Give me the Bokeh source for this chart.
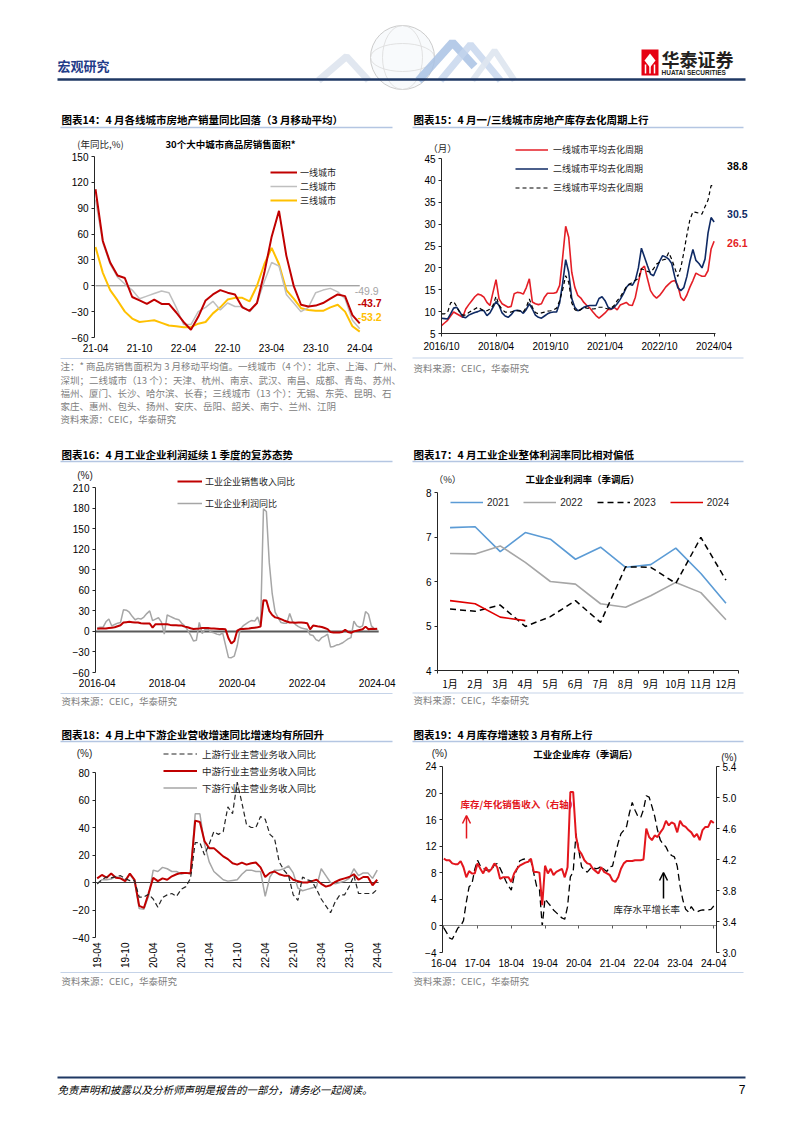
import math
from bokeh.plotting import figure
from bokeh.layouts import column, row
from bokeh.models import (Range1d, LinearAxis, FixedTicker, Legend, LegendItem,
                          NumeralTickFormatter, Label, Arrow, OpenHead)
from bokeh.core.properties import value
from bokeh.embed import file_html
from bokeh.resources import INLINE

CJK = "Noto Sans CJK SC"
LAT = "Liberation Sans"
AX = "#262626"

# ======================= DATA =======================
# 图表14: monthly 2021-04 .. 2024-04 (YoY %, 3M MA)
ticks14 = ["21-04", "21-10", "22-04", "22-10", "23-04", "23-10", "24-04"]
tier1_14 = [112, 52, 27, 12, 9, -13, -17, -21, -16, -21, -21, -31, -42, -51, -36,
            -17, -10, -5, -8, -10, -25, -29, -20, 15, 57, 87, 35, 0, -22, -24,
            -23, -20, -15, -10, -12, -34, -43.7]
tier2_14 = [100, 50, 25, 10, 2, -5, -15, -12, -9, -6, -8, -25, -45, -45, -30,
            -25, -18, -28, -20, -24, -24, -30, -20, 5, 27, 23, -10, -20, -30, -25,
            -8, -5, -3, -7, -15, -40, -49.9]
tier3_14 = [45, 15, -5, -17, -30, -38, -42, -41, -40, -43, -46, -47, -48, -48, -44,
            -42, -32, -25, -16, -14, -14, -18, 0, 25, 44, 25, -5, -15, -26, -28,
            -29, -29, -25, -22, -30, -47, -53.2]

# 图表15: monthly 2016-10 .. 2024-04 (months)
ticks15 = ["2016/10", "2018/04", "2019/10", "2021/04", "2022/10", "2024/04"]
tier1_15 = [6.8, 7.4, 8.0, 9.0, 9.9, 9.5, 9.1, 8.7, 10.6, 11.6,
            12.5, 13.4, 14.0, 13.8, 13.3, 12.1, 11.4, 14.4, 17.3, 12.9,
            11.8, 11.4, 11.0, 11.2, 14.1, 14.4, 14.3, 14.0, 15.5, 17.5,
            12.2, 11.8, 11.6, 11.8, 13.3, 14.2, 14.2, 14.2, 14.4, 16.0,
            22.4, 29.5, 27.0, 19.0, 15.6, 13.7, 13.1, 12.1, 11.4, 10.8,
            9.9, 9.1, 8.5, 9.1, 9.7, 10.5, 10.5, 11.0, 10.4, 11.5,
            11.8, 12.1, 11.5, 11.4, 13.3, 16.7, 19.8, 20.4, 17.5, 14.8,
            13.7, 13.1, 13.7, 14.6, 15.6, 16.3, 16.9, 17.1, 16.0, 13.3,
            12.5, 13.8, 15.6, 17.1, 18.8, 18.4, 18.1, 18.1, 19.4, 24.3, 26.1]
tier2_15 = [8.5, 8.4, 8.3, 9.5, 10.8, 11.0, 10.0, 8.8, 8.6, 9.2,
            9.5, 9.8, 10.0, 10.3, 10.2, 9.1, 9.7, 11.0, 12.3, 11.4,
            9.7, 9.0, 8.7, 9.3, 10.2, 10.3, 10.2, 9.6, 10.5, 11.8,
            10.6, 9.2, 8.7, 8.5, 9.0, 9.5, 9.8, 9.9, 9.9, 12.0,
            16.5, 21.9, 19.0, 13.0, 11.0, 10.2, 10.5, 11.0, 11.3, 11.4,
            11.4, 11.4, 13.0, 13.4, 12.5, 11.0, 10.6, 11.0, 11.8, 12.8,
            14.0, 15.5, 16.3, 16.0, 17.2, 20.0, 24.5, 22.5, 20.5, 18.6,
            18.2, 19.8, 21.5, 22.8, 22.5, 22.0, 21.0, 18.0, 15.5, 14.8,
            15.5, 18.0, 21.5, 24.2, 21.7, 21.0, 20.0, 22.0, 28.0, 31.5, 30.5]
tier3_15 = [9.5, 9.5, 9.8, 12.0, 12.3, 11.2, 9.8, 9.2, 9.2, 9.8,
            10.2, 10.6, 11.0, 10.6, 10.2, 10.2, 10.6, 11.4, 13.5, 11.5,
            10.5, 9.9, 9.9, 9.9, 10.2, 10.2, 10.1, 9.9, 11.0, 12.9,
            11.0, 9.8, 9.5, 9.7, 9.9, 10.1, 10.2, 10.4, 10.8, 12.5,
            15.0, 18.2, 16.7, 12.0, 10.5, 10.0, 10.5, 11.0, 10.8, 10.7,
            10.6, 10.7, 11.0, 11.0, 10.8, 10.6, 10.8, 11.4, 12.5, 13.3,
            14.5, 15.6, 16.2, 16.7, 17.2, 17.5, 19.8, 19.5, 19.2, 19.0,
            19.8, 20.9, 21.3, 21.8, 22.0, 23.5, 22.0, 20.0, 18.0, 20.0,
            23.5, 27.5, 31.0, 32.8, 32.7, 32.5, 32.3, 34.0, 35.5, 38.8, 38.8]

# 图表16: monthly 2016-04 .. 2024-04 (YoY %)
ticks16 = ["2016-04", "2018-04", "2020-04", "2022-04", "2024-04"]
revenue16 = [4.0, 4.2, 4.4, 4.4, 5.0, 5.5, 6.0, 7.5, 9.0, 13.0,
             13.5, 14.0, 13.5, 13.0, 13.0, 12.0, 11.7, 11.7, 11.5, 5.5,
             10.5, 10.5, 10.5, 10.5, 10.5, 9.5, 9.0, 9.0, 8.5, 8.5,
             7.0, 6.0, 4.5, 3.5, 4.0, 4.4, 5.0, 5.0, 5.0, 4.4,
             4.4, 4.0, 3.4, 3.4, 3.0, -10.0, -17.7, -14.0, 1.0, 3.4,
             3.5, 4.0, 4.4, 5.0, 5.5, 6.0, 7.0, 45.5, 45.0, 30.0,
             24.0, 20.5, 19.5, 18.0, 16.0, 14.5, 13.0, 13.0, 12.5, 13.0,
             13.0, 12.5, 12.0, 3.0, 8.5, 8.0, 7.0, 6.5, 5.0, 3.4,
             -1.0, -1.5, -1.5, -1.5, -1.0, 2.5, -1.0, -2.0, 0.0, 1.0,
             2.0, 3.0, 7.0, 3.0, 4.0, 3.5, 4.0]
profit16 = [5, 6, 6, 14, 18, 8, 10, 12, 13, 31.5,
            31, 28, 22, 17, 19, 18, 21, 26, 30, 15.6,
            18, 20, 14, -4, 24, 22, 20, 18, 17, 12,
            8, 2, -5, -14, -13, 13, -3, 3, 3, -1,
            -2, -4, -5, -2, -20, -38, -38.3, -36, -21, 3,
            8, 11, 14, 16, 15, 21, 8, 178.9, 175, 100,
            55, 28, 20, 13, 12, 12, 26, 14, 10, 7,
            5, 4, 3, -5, -6, -12, -14, -9, -7, -4,
            -22.9, -22, -20, -19, -17, -14, -11, -9, 15, 8,
            6, 8, 29, 25, 8, 4, 2]

# 图表17: profit margin by month (%)
months17 = ["1月", "2月", "3月", "4月", "5月", "6月", "7月", "8月", "9月", "10月", "11月", "12月"]
margin2021 = [7.21, 7.23, 6.67, 7.10, 6.95, 6.50, 6.77, 6.32, 6.38, 6.75, 6.18, 5.51]
margin2022 = [6.63, 6.62, 6.80, 6.43, 6.00, 5.94, 5.50, 5.42, 5.68, 5.98, 5.75, 5.14]
margin2023 = [5.38, 5.33, 5.47, 4.99, 5.21, 5.57, 5.08, 6.33, 6.32, 5.96, 6.99, 6.03]
margin2024 = [5.57, 5.50, 5.20, 5.12]

# 图表18: monthly 2019-04 .. 2024-04 (YoY %)
ticks18 = ["19-04", "19-10", "20-04", "20-10", "21-04", "21-10", "22-04", "22-10", "23-04", "23-10", "24-04"]
upstream18 = [-1, 2, 4, 3.4, 4.3, 5, 2.7, 1.4, 1.4, -10.6,
              -10.6, -8.5, -12, -18, -11, -9, -8, -10, -5, -3,
              3, 29, 29, 20, 28, 37, 35, 37, 55, 50,
              73, 58, 42, 40, 40, 48, 46, 35, 32, 15,
              9, 5, -9, -13, 4, 2, 1, -5, -12, -17,
              -22, -14, -9, -9, -3, 5, -8, -8, -8, -8, -5]
midstream18 = [3, 5.5, 3.5, 6.5, 3.5, 3, 1, 6.5, 2, -17,
               -18.5, -8, 3.5, 1, 3, 2, 4.5, 6, 7, 7,
               6.5, 45, 44, 30, 25, 25, 22, 19, 17, 14,
               13, 14.5, 13, 14, 14.5, 11, 4, 7, 8, 6,
               5, 5, 2, 1, 0, 0, 1, 2, -1, -3,
               -2, 0.5, 2, 3, 4, 6, 2, 4, 4, -2, 2]
downstream18 = [-1, 2, 2, 2.5, 4.5, 3, 2, 6, 1, -19,
                -19.5, -10, 9, 8, 11, 10, 8, 8, 6, 7,
                7, 50, 50, 28, 15, 8, 5, 2, 1, 1.5,
                2, 6, 9, 9, 8, 8, -10, 4, 9, 9,
                10, 12, 7, -4, -6, -5, -4, -3, 10, 5,
                0, -1, 0, 1, 3, 10, 5, 7, 7, 3, 9]

# 图表19: monthly 2016-04 .. 2024-04
ticks19 = ["16-04", "17-04", "18-04", "19-04", "20-04", "21-04", "22-04", "23-04", "24-04"]
inventory19 = [-0.3, -1.0, -1.8, -2.0, -1.2, -0.3, 0.0, 0.8, 3.6, 5.9,
               6.3, 8.5, 9.9, 9.0, 8.7, 8.4, 8.4, 8.4, 9.2, 9.4,
               8.7, 7.8, 6.8, 6.0, 5.4, 7.5, 8.5, 9.8, 10.0, 10.1,
               10.1, 9.8, 7.9, 6.0, 5.6, 0.0, 4.1, 3.5, 3.0, 2.4,
               2.0, 1.6, 1.2, 1.0, 2.9, 7.4, 8.1, 13.9, 11.4, 8.9,
               8.4, 8.1, 8.6, 8.9, 8.6, 8.7, 9.0, 8.5, 8.2, 8.9,
               9.0, 10.9, 12.5, 13.9, 14.4, 15.0, 17.0, 18.6, 17.4, 16.5,
               16.3, 17.5, 19.6, 19.4, 18.0, 16.5, 14.4, 12.9, 12.3, 11.9,
               11.0, 10.6, 10.4, 9.0, 6.0, 3.9, 2.5, 2.1, 2.9, 2.3,
               2.1, 2.3, 2.4, 2.4, 2.4, 2.5, 3.0]
ratio19 = [4.21, 4.19, 4.19, 4.15, 4.14, 4.14, 4.18, 4.10, 3.97, 4.05,
           4.02, 4.02, 4.15, 4.08, 4.02, 4.10, 4.04, 4.08, 4.15, 4.10,
           3.95, 3.97, 3.97, 3.97, 3.91, 4.02, 4.08, 4.12, 4.14, 4.16,
           4.17, 4.21, 4.04, 4.04, 4.03, 3.61, 4.12, 4.02, 4.08, 4.00,
           4.04, 4.06, 4.08, 3.97, 4.10, 5.07, 5.07, 4.50, 4.32, 4.27,
           4.19, 4.15, 4.14, 4.08, 4.05, 4.02, 4.10, 4.04, 4.02, 4.00,
           3.93, 3.91, 3.97, 4.08, 4.15, 4.18, 4.18, 4.18, 4.19, 4.19,
           4.19, 4.20, 4.60, 4.49, 4.45, 4.51, 4.49, 4.55, 4.60, 4.70,
           4.64, 4.68, 4.66, 4.55, 4.70, 4.64, 4.62, 4.58, 4.55, 4.49,
           4.53, 4.45, 4.58, 4.62, 4.62, 4.70, 4.67]

# ======================= TEXTS =======================
T14 = "图表14：4 月各线城市房地产销量同比回落（3 月移动平均）"
T15 = "图表15：4 月一/三线城市房地产库存去化周期上行"
T16 = "图表16：4 月工业企业利润延续 1 季度的复苏态势"
T17 = "图表17：4 月工业企业整体利润率同比相对偏低"
T18 = "图表18：4 月上中下游企业营收增速同比增速均有所回升"
T19 = "图表19：4 月库存增速较 3 月有所上行"
NOTES14 = ["注：* 商品房销售面积为 3 月移动平均值。一线城市（4 个）：北京、上海、广州、",
           "深圳；二线城市（13 个）：天津、杭州、南京、武汉、南昌、成都、青岛、苏州、",
           "福州、厦门、长沙、哈尔滨、长春；三线城市（13 个）：无锡、东莞、昆明、石",
           "家庄、惠州、包头、扬州、安庆、岳阳、韶关、南宁、兰州、江阴"]
SRC = "资料来源：CEIC，华泰研究"


# ======================= HELPERS =======================
def strip(h):
    p = figure(width=802, height=h, x_range=Range1d(0, 802), y_range=Range1d(h, 0),
               output_backend="svg", toolbar_location=None, title=None,
               x_axis_location=None, y_axis_location=None,
               min_border_left=0, min_border_right=0, min_border_top=0, min_border_bottom=0)
    p.grid.visible = False
    p.outline_line_color = None
    return p


def st(p, x, y, s, size, color="#000000", style="normal", font=CJK, align="left"):
    p.text(x=[x], y=[y], text=[s], text_font=value(font), text_font_size=f"{size}px",
           text_color=color, text_font_style=style, text_align=align, text_baseline="middle")


def hline(p, x0, x1, y, color, w):
    p.segment(x0=[x0], y0=[y], x1=[x1], y1=[y], line_color=color, line_width=w)


class Map:
    """page-pixel -> data conversion for a chart frame"""
    def __init__(self, fl, fb, x0, xpx, y0, ypx):
        self.fl, self.fb, self.x0, self.xpx, self.y0, self.ypx = fl, fb, x0, xpx, y0, ypx

    def x(self, px):
        return self.x0 + (px - self.fl) / self.xpx

    def y(self, py):
        return self.y0 + (self.fb - py) / self.ypx


def base_chart(fig_left, fig_top, height, axis_px, x_at_axis, xpx, axis_py, y_at_axis, ypx):
    """Frame spans the whole figure; both axes are pinned (page pixels) inside it."""
    x0 = x_at_axis - (axis_px - fig_left) / xpx
    y0 = y_at_axis - (fig_top + height - axis_py) / ypx
    p = figure(width=401, height=height, x_range=Range1d(x0, x0 + 401 / xpx),
               y_range=Range1d(y0, y0 + height / ypx),
               output_backend="svg", toolbar_location=None, title=None,
               min_border_left=0, min_border_right=0, min_border_top=0, min_border_bottom=0)
    p.grid.visible = False
    p.outline_line_color = None
    p.yaxis[0].fixed_location = x_at_axis
    p.xaxis[0].fixed_location = y_at_axis
    return p, Map(fig_left, fig_top + height, x0, xpx, y0, ypx)


def style_axis(ax, ticks, overrides=None, bounds=None, tick_out=3, standoff=3,
               font=LAT, size="10px", line=True):
    ax.ticker = FixedTicker(ticks=ticks)
    if overrides:
        ax.major_label_overrides = overrides
    if bounds:
        ax.bounds = bounds
    ax.axis_line_color = AX if line else None
    ax.axis_line_width = 1
    ax.major_tick_line_color = AX
    ax.minor_tick_line_color = None
    ax.major_tick_in = 0
    ax.major_tick_out = tick_out
    ax.major_label_standoff = standoff
    ax.major_label_text_font = font
    ax.major_label_text_font_size = size
    ax.major_label_text_color = "#000000"


def lab(p, x, y, s, size, color="#262626", style="normal", font=CJK, align="center"):
    p.add_layout(Label(x=x, y=y, text=s, text_font=font, text_font_size=f"{size}px",
                       text_color=color, text_font_style=style, text_align=align,
                       text_baseline="middle"))


def legend(p, items, vx, vy, gw, ih, standoff, font=CJK, size=9, orientation="vertical", spacing=0):
    leg = Legend(items=[LegendItem(label=l, renderers=[r]) for l, r in items],
                 location=(vx, vy), orientation=orientation,
                 glyph_width=gw, glyph_height=ih, label_height=ih,
                 label_standoff=standoff, spacing=spacing, padding=0, margin=0,
                 border_line_color=None, background_fill_alpha=0,
                 label_text_font=font, label_text_font_size=f"{size}px",
                 label_text_color="#262626")
    p.add_layout(leg)


# ======================= STRIP A (header + row1 titles) =======================
sA = strip(130)
st(sA, 57, 65, "宏观研究", 13, "#1F3C88", "bold")
# header decoration (globe & ribbons)
sA.line([318, 346, 368], [80, 56, 80], line_color="#D9E1EC", line_width=7, line_alpha=0.8)
sA.circle(x=[402], y=[57], radius=32, fill_color="#F8FAFC", line_color="#CCCCCC", line_width=1)
sA.ellipse(x=[402], y=[57], width=40, height=64, fill_color=None, line_color="#DADADA", line_width=0.8)
sA.ellipse(x=[402], y=[57], width=64, height=28, fill_color=None, line_color="#DADADA", line_width=0.8)
sA.line([418, 452, 474], [80, 42, 66], line_color="#A9C2E4", line_width=8, line_alpha=0.85)
sA.line([440, 470, 500], [80, 44, 80], line_color="#C4D5EC", line_width=7, line_alpha=0.8)
sA.line([472, 494, 514], [80, 50, 80], line_color="#DEE5EF", line_width=6, line_alpha=0.9)
hline(sA, 57, 745, 79, "#1F3864", 2.5)
# logo
sA.quad(left=[641], right=[658], top=[49], bottom=[75], fill_color="#E60012", line_color=None)
sA.patch([649.5, 655, 649.5, 644], [53, 60, 67, 60], fill_color="white", line_color=None)
sA.segment(x0=[645, 649.5, 654], y0=[64, 64, 64], x1=[645, 649.5, 654], y1=[73, 73, 73],
           line_color="white", line_width=1.5)
st(sA, 661, 58, "华泰证券", 18, "#231F20", "bold")
st(sA, 661, 71.5, "HUATAI SECURITIES", 6.5, "#231F20", "bold", LAT)
# row1 titles
st(sA, 61, 119, T14, 10.5, "#000000", "bold")
st(sA, 413, 119, T15, 10.5, "#000000", "bold")
hline(sA, 60, 392, 127, "#B4C6E2", 1.5)
hline(sA, 412, 743, 127, "#B4C6E2", 1.5)

# ======================= CHART 14 =======================
XA14, PX14, YPX14 = -0.136, 7.34, 0.8619
f14, m14 = base_chart(0, 130, 226, 94, XA14, PX14, 337, -60, YPX14)
x14 = list(range(len(tier1_14)))
f14.segment(x0=[x14[0]], y0=[0], x1=[x14[-1]], y1=[0], line_color="#7F7F7F", line_width=1)
r14c = f14.line(x14, tier3_14, line_color="#FFC000", line_width=2)
r14b = f14.line(x14, tier2_14, line_color="#BFBFBF", line_width=1.5)
r14a = f14.line(x14, tier1_14, line_color="#C00000", line_width=2)
style_axis(f14.yaxis[0], list(range(-60, 151, 30)), bounds=(-60, 150))
style_axis(f14.xaxis[0], [i * 6 for i in range(len(ticks14))],
           {i * 6: t for i, t in enumerate(ticks14)}, tick_out=0, standoff=6, line=False)
legend(f14, [("一线城市", r14a), ("二线城市", r14b), ("三线城市", r14c)], 270, 149, 27, 14, 3)
lab(f14, m14.x(100), m14.y(143), "(年同比,%)", 9.5)
lab(f14, m14.x(230), m14.y(143), "30个大中城市商品房销售面积*", 9.5, "#000000", "bold")
for ser, col, dy, dx, sty in [(tier2_14, "#A6A6A6", 38, -5, "normal"),
                              (tier1_14, "#C00000", 20, -2, "bold"),
                              (tier3_14, "#FFC000", 15, -2, "bold")]:
    lab(f14, x14[-1] + dx / PX14, ser[-1] + dy / YPX14, f"{ser[-1]:.1f}", 10.5, col, sty, LAT, "left")

# ======================= CHART 15 =======================
PX15, YPX15 = 3.029, 4.375
f15, m15 = base_chart(401, 130, 226, 441, 0, PX15, 333, 5, YPX15)
x15 = list(range(len(tier1_15)))
r15a = f15.line(x15, tier1_15, line_color="#E41E26", line_width=1.6)
r15b = f15.line(x15, tier2_15, line_color="#0F2A64", line_width=1.6)
r15c = f15.line(x15, tier3_15, line_color="#000000", line_width=1.2, line_dash="4 3")
style_axis(f15.yaxis[0], list(range(5, 46, 5)), bounds=(5, 45))
style_axis(f15.xaxis[0], [i * 18 for i in range(len(ticks15))],
           {i * 18: t for i, t in enumerate(ticks15)}, bounds=(0, x15[-1] + 0.5), tick_out=3, standoff=4)
legend(f15, [("一线城市平均去化周期", r15a), ("二线城市平均去化周期", r15b),
             ("三线城市平均去化周期", r15c)], 515 - 401, 159, 33, 19, 5)
lab(f15, m15.x(442), m15.y(147), "（月）", 9.5)
for ser, col, dy in [(tier3_15, "#000000", 20), (tier2_15, "#0F2A64", 8), (tier1_15, "#E41E26", -2)]:
    lab(f15, x15[-1] + 13 / PX15, ser[-1] + dy / YPX15, f"{ser[-1]:.1f}", 10.5, col, "bold", LAT, "left")

# ======================= STRIP B =======================
sB = strip(109)
hline(sB, 60, 392, 2, "#C5D3E8", 1)
hline(sB, 412, 743, 1.5, "#C5D3E8", 1)
for i, t in enumerate(NOTES14):
    st(sB, 60, [9, 23, 36, 49][i], t, 9.5, "#808080")
st(sB, 60, 62, SRC, 9.5, "#808080")
st(sB, 413, 11, SRC, 9.5, "#808080")
st(sB, 61, 98, T16, 10.5, "#000000", "bold")
st(sB, 413, 98, T17, 10.5, "#000000", "bold")
hline(sB, 60, 392, 105, "#B4C6E2", 1.5)
hline(sB, 412, 743, 105, "#B4C6E2", 1.5)

# ======================= CHART 16 =======================
XA16, PX16, YPX16 = -0.58, 2.917, 0.685
f16, m16 = base_chart(0, 465, 226, 95, XA16, PX16, 672, -60, YPX16)
x16 = list(range(len(revenue16)))
f16.segment(x0=[XA16], y0=[0], x1=[x16[-1] + 0.5], y1=[0], line_color="#595959", line_width=2)
r16b = f16.line(x16, profit16, line_color="#A6A6A6", line_width=1.5)
r16a = f16.line(x16, revenue16, line_color="#C00000", line_width=2)
style_axis(f16.yaxis[0], list(range(-60, 211, 30)), bounds=(-60, 210))
style_axis(f16.xaxis[0], [i * 24 for i in range(len(ticks16))],
           {i * 24: t for i, t in enumerate(ticks16)}, tick_out=0, standoff=6, line=False)
legend(f16, [("工业企业销售收入同比", r16a), ("工业企业利润同比", r16b)], 177, 177, 25, 22, 3)
lab(f16, m16.x(84.5), m16.y(475), "(%)", 10, "#262626", "normal", LAT)

# ======================= CHART 17 =======================
PX17, YPX17 = 301 / 12, 44.5
f17, m17 = base_chart(401, 465, 226, 437, 0.5, PX17, 670, 4, YPX17)
xm = list(range(1, len(months17) + 1))
r17a = f17.line(xm, margin2021, line_color="#5B9BD5", line_width=1.6)
r17b = f17.line(xm, margin2022, line_color="#A6A6A6", line_width=1.6)
r17c = f17.line(xm, margin2023, line_color="#000000", line_width=1.5, line_dash="6 4")
r17d = f17.line(xm[:len(margin2024)], margin2024, line_color="#E00000", line_width=1.6)
style_axis(f17.yaxis[0], [4, 5, 6, 7, 8], bounds=(4, 8))
style_axis(f17.xaxis[0], xm, {m: t for m, t in zip(xm, months17)}, bounds=(0.5, 12.5),
           tick_out=0, standoff=2, font=CJK)
f17.xaxis[0].ticker = FixedTicker(ticks=xm, minor_ticks=[m - 0.5 for m in xm] + [xm[-1] + 0.5])
f17.xaxis[0].minor_tick_line_color = AX
f17.xaxis[0].minor_tick_out = 3
f17.xaxis[0].minor_tick_in = 0
legend(f17, [("2021", r17a), ("2022", r17b), ("2023", r17c), ("2024", r17d)], 450 - 401, 182, 33, 14, 4,
       font=LAT, size=10, orientation="horizontal", spacing=14)
lab(f17, m17.x(447), m17.y(478), "（%）", 9.5)
lab(f17, m17.x(582), m17.y(478), "工业企业利润率（季调后）", 9.5, "#000000", "bold")

# ======================= STRIP C =======================
sC = strip(54)
hline(sC, 60, 392, 2, "#C5D3E8", 1)
hline(sC, 412, 743, 1.5, "#C5D3E8", 1)
st(sC, 61, 9, SRC, 9.5, "#808080")
st(sC, 413, 8, SRC, 9.5, "#808080")
st(sC, 61, 43, T18, 10.5, "#000000", "bold")
st(sC, 413, 43, T19, 10.5, "#000000", "bold")
hline(sC, 60, 392, 50, "#B4C6E2", 1.5)
hline(sC, 412, 743, 50, "#B4C6E2", 1.5)

# ======================= CHART 18 =======================
XA18, PX18, YPX18 = -0.364, 4.667, 1.375
f18, m18 = base_chart(0, 745, 225, 95, XA18, PX18, 937, -40, YPX18)
x18 = list(range(len(upstream18)))
f18.segment(x0=[XA18], y0=[0], x1=[x18[-1] + 0.3], y1=[0], line_color="#404040", line_width=1.2)
r18c = f18.line(x18, downstream18, line_color="#A6A6A6", line_width=1.5)
r18b = f18.line(x18, midstream18, line_color="#C00000", line_width=2)
r18a = f18.line(x18, upstream18, line_color="#262626", line_width=1.2, line_dash="5 3")
style_axis(f18.yaxis[0], list(range(-40, 81, 20)), bounds=(-40, 80))
style_axis(f18.xaxis[0], [i * 6 for i in range(len(ticks18))],
           {i * 6: t for i, t in enumerate(ticks18)}, tick_out=0, standoff=5, line=False)
f18.xaxis[0].major_label_orientation = math.pi / 2
legend(f18, [("上游行业主营业务收入同比", r18a), ("中游行业主营业务收入同比", r18b),
             ("下游行业主营业务收入同比", r18c)], 163, 174, 34, 17, 5, size=9.5)
lab(f18, m18.x(84), m18.y(753), "(%)", 10, "#262626", "normal", LAT)

# ======================= CHART 19 =======================
XA19, PX19, YPX19, RPX19 = -0.46, 2.8125, 6.643, 77.5
f19, m19 = base_chart(401, 745, 225, 442, XA19, PX19, 952, -4, YPX19)
r0 = 3.0 - (745 + 225 - 952) / RPX19
f19.extra_y_ranges = {"ratio": Range1d(r0, r0 + 225 / RPX19)}
x19 = list(range(len(inventory19)))
year_ticks19 = [i * 12 for i in range(len(ticks19))]
zax = LinearAxis(fixed_location=0)
f19.add_layout(zax, "below")
style_axis(zax, year_ticks19, {t: " " for t in year_ticks19}, bounds=(XA19, m19.x(716)),
           tick_out=3, standoff=0)
zax.axis_line_color = "#8C8C8C"
zax.major_tick_line_color = "#595959"
r19a = f19.line(x19, inventory19, line_color="#000000", line_width=1.3, line_dash="7 4")
r19b = f19.line(x19, ratio19, line_color="#E3161D", line_width=2, y_range_name="ratio")
style_axis(f19.yaxis[0], list(range(-4, 25, 4)), bounds=(-4, 24))
rax = LinearAxis(y_range_name="ratio", fixed_location=m19.x(716))
f19.add_layout(rax, "right")
style_axis(rax, [3.0, 3.4, 3.8, 4.2, 4.6, 5.0, 5.4], bounds=(3.0, 5.4))
rax.formatter = NumeralTickFormatter(format="0.0")
style_axis(f19.xaxis[0], year_ticks19, {t: s for t, s in zip(year_ticks19, ticks19)},
           tick_out=0, standoff=6, line=False)
lab(f19, m19.x(439), m19.y(753), "(%)", 10, "#262626", "normal", LAT)
lab(f19, m19.x(728.5), m19.y(757), "(%)", 10, "#262626", "normal", LAT)
lab(f19, m19.x(585), m19.y(753), "工业企业库存（季调后）", 9.5, "#000000", "bold")
lab(f19, m19.x(460), m19.y(803), "库存/年化销售收入（右轴）", 9.5, "#E3161D", "bold", CJK, "left")
lab(f19, m19.x(613), m19.y(908), "库存水平增长率", 9.5, "#262626", "normal", CJK, "left")
f19.add_layout(Arrow(end=OpenHead(size=8, line_color="#E3161D", line_width=1.5),
                     x_start=m19.x(466), y_start=m19.y(838), x_end=m19.x(466), y_end=m19.y(815),
                     line_color="#E3161D", line_width=1.5))
f19.add_layout(Arrow(end=OpenHead(size=8, line_color="#000000", line_width=1.5),
                     x_start=m19.x(663), y_start=m19.y(898), x_end=m19.x(663), y_end=m19.y(872),
                     line_color="#000000", line_width=1.5))

# ======================= STRIP D (sources + footer) =======================
sD = strip(163)
hline(sD, 60, 392, 2, "#C5D3E8", 1)
hline(sD, 412, 743, 2, "#C5D3E8", 1)
st(sD, 61, 10, SRC, 9.5, "#808080")
st(sD, 413, 10, SRC, 9.5, "#808080")
hline(sD, 57, 745, 107, "#1F3864", 2)
st(sD, 57, 119, "免责声明和披露以及分析师声明是报告的一部分，请务必一起阅读。", 10.5, "#000000", "italic")
st(sD, 745, 119, "7", 12, "#000000", "normal", LAT, "right")

page = column(sA, row(f14, f15, spacing=0), sB, row(f16, f17, spacing=0), sC,
              row(f18, f19, spacing=0), sD, spacing=0)
open("out.html", "w").write(file_html(page, INLINE))
